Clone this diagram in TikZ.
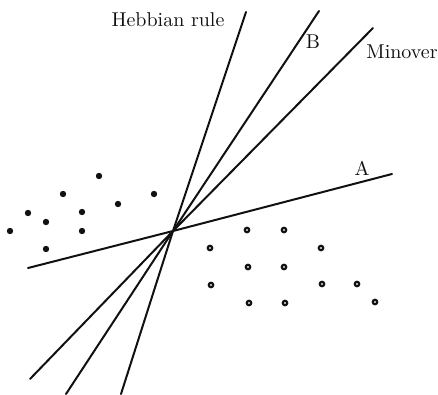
\documentclass[tikz,border=0pt]{standalone}
\usepackage{tikz}
\usetikzlibrary{calc, positioning}
\definecolor{inkDark}{HTML}{111111}

\begin{document}
\begin{tikzpicture}[x=0.5pt, y=-0.5pt,
    sepline/.style={draw=inkDark, line width=1pt, line cap=round},
    dotfull/.style={circle, fill=inkDark, inner sep=0pt, minimum size=3.2pt},
    dotring/.style={circle, draw=inkDark, fill=white, line width=1.1pt, inner sep=0pt, minimum size=2.2pt},
    lbl/.style={text=inkDark, inner sep=0pt, font=\normalsize}]
  \useasboundingbox (0,0) rectangle (438,395);

  % common crossing point and line ends
  \coordinate (o) at (173,231);
  \coordinate (hebTop) at (246,12);
  \coordinate (hebBot) at (121,394);
  \coordinate (bTop) at (319,11);
  \coordinate (bBot) at (66,394);
  \coordinate (minTop) at (373,28);
  \coordinate (minBot) at (30,379);
  \coordinate (aRight) at (392,174);
  \coordinate (aLeft) at (28,268);

  \draw[sepline] (hebBot) -- (o) -- (hebTop);
  \draw[sepline] (bBot) -- (o) -- (bTop);
  \draw[sepline] (minBot) -- (o) -- (minTop);
  \draw[sepline] (aLeft) -- (o) -- (aRight);

  % labels
  \node[lbl] (hebLabel) at (168,20) {Hebbian rule};
  \node[lbl] (bLabel) at (313,42) {B};
  \node[lbl] (minLabel) at (402,52) {Minover};
  \node[lbl] (aLabel) at (362,168) {A};

  % class one (filled)
  \foreach \x/\y [count=\i] in {99/176, 63/194, 154/194, 118/204, 28/213,
      82/212, 46/222, 10/231, 82/231, 46/249}
    \node[dotfull] (p\i) at (\x,\y) {};

  % class two (rings)
  \foreach \x/\y [count=\i] in {247/230, 284/230, 210/248, 321/248, 248/267,
      284/267, 211/285, 322/284, 357/284, 249/303, 285/303, 375/302}
    \node[dotring] (q\i) at (\x,\y) {};
\end{tikzpicture}
\end{document}
